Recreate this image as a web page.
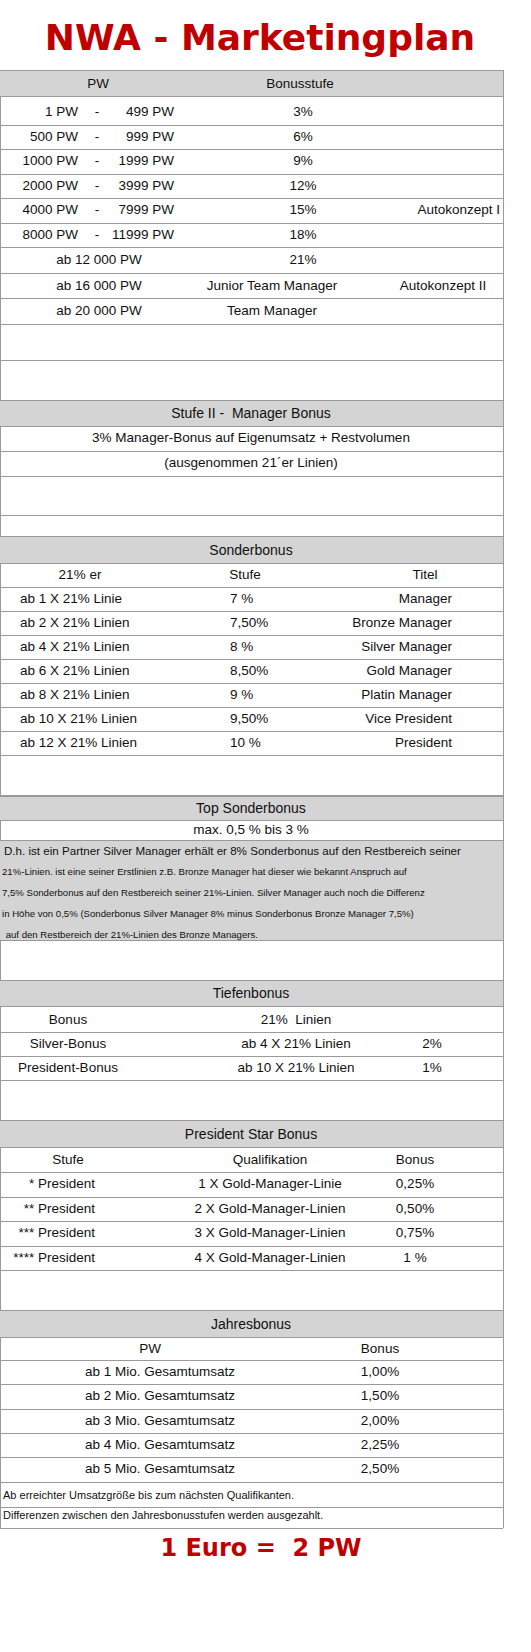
<!DOCTYPE html>
<html><head><meta charset="utf-8">
<script src="https://cdn.jsdelivr.net/npm/chart.js@4"></script>
<style>
body{margin:0;background:#fff;font-family:"Liberation Sans",Arial,sans-serif;font-size:13.5px;color:#111;}
#wrap{position:relative;width:531px;height:1652px;}
.t{position:absolute;white-space:pre;line-height:1;}
.ln{position:absolute;left:0;width:503px;height:1px;background:#9a9a9a;}
.bg{position:absolute;left:0;width:503px;background:#d4d4d4;}
.v{position:absolute;top:70px;width:1px;height:1458px;background:#9a9a9a;}
</style></head><body><div id="wrap"></div>
<script>
const title="NWA - Marketingplan";
const pwFrom=["1 PW","500 PW","1000 PW","2000 PW","4000 PW","8000 PW"];
const pwTo=["499 PW","999 PW","1999 PW","3999 PW","7999 PW","11999 PW"];
const bonusStufe=["3%","6%","9%","12%","15%","18%"];
const extraRows=[["ab 12 000 PW","21%",""],["ab 16 000 PW","Junior Team Manager","Autokonzept II"],["ab 20 000 PW","Team Manager",""]];
const sbLinien=["ab 1 X 21% Linie","ab 2 X 21% Linien","ab 4 X 21% Linien","ab 6 X 21% Linien","ab 8 X 21% Linien","ab 10 X 21% Linien","ab 12 X 21% Linien"];
const sbStufe=["7 %","7,50%","8 %","8,50%","9 %","9,50%","10 %"];
const sbTitel=["Manager","Bronze Manager","Silver Manager","Gold Manager","Platin Manager","Vice President","President"];
const topText=["D.h. ist ein Partner Silver Manager erhält er 8% Sonderbonus auf den Restbereich seiner","21%-Linien. ist eine seiner Erstlinien z.B. Bronze Manager hat dieser wie bekannt Anspruch auf","7,5% Sonderbonus auf den Restbereich seiner 21%-Linien. Silver Manager auch noch die Differenz","in Höhe von 0,5% (Sonderbonus Silver Manager 8% minus Sonderbonus Bronze Manager 7,5%)"," auf den Restbereich der 21%-Linien des Bronze Managers."];
const tbName=["Silver-Bonus","President-Bonus"],tbQual=["ab 4 X 21% Linien","ab 10 X 21% Linien"],tbVal=["2%","1%"];
const psStufe=["* President","** President","*** President","**** President"];
const psQual=["1 X Gold-Manager-Linie","2 X Gold-Manager-Linien","3 X Gold-Manager-Linien","4 X Gold-Manager-Linien"];
const psBonus=["0,25%","0,50%","0,75%","1 %"];
const jbName=["ab 1 Mio. Gesamtumsatz","ab 2 Mio. Gesamtumsatz","ab 3 Mio. Gesamtumsatz","ab 4 Mio. Gesamtumsatz","ab 5 Mio. Gesamtumsatz"];
const jbBonus=["1,00%","1,50%","2,00%","2,25%","2,50%"];

const W=document.getElementById('wrap');
function el(cls,css,txt){const d=document.createElement('div');d.className=cls;d.style.cssText=css;if(txt!==undefined)d.textContent=txt;W.appendChild(d);return d;}
function txt(s,x,y,al,extra){const d=el('t','top:'+(y-7)+'px;'+(extra||''),s);
 if(al==='c'){d.style.left=x+'px';d.style.transform='translateX(-50%)';}
 else if(al==='r'){d.style.right=(531-x)+'px';} else d.style.left=x+'px';}
function line(y){el('ln','top:'+y+'px');}
function header(y0,y1,s){el('bg','top:'+y0+'px;height:'+(y1-y0)+'px');line(y0);line(y1);txt(s,251,(y0+y1)/2,'c','font-size:14px');}
el('v','left:0');el('v','left:503px');
txt(title,260,42,'c','font-size:36px;font-weight:bold;color:#c00000;top:20px;font-family:DejaVu Sans,sans-serif');

header(70,96,"");txt("PW",98,84,'c');txt("Bonusstufe",300,84,'c');
let y=100;
pwFrom.forEach((f,i)=>{const c=y+12;txt(f,78,c,'r');txt("-",97,c,'c');txt(pwTo[i],174,c,'r');txt(bonusStufe[i],303,c,'c');if(i===4)txt("Autokonzept I",500,c,'r');y+=24.5;line(y);});
extraRows.forEach(r=>{const c=y+13;txt(r[0],99,c,'c');txt(r[1],r[1].length>5?272:303,c,'c');if(r[2])txt(r[2],443,c,'c');y+=25.5;line(y);});
line(360);
header(400,426,"Stufe II -  Manager Bonus");
txt("3% Manager-Bonus auf Eigenumsatz + Restvolumen",251,438,'c');line(451);
txt("(ausgenommen 21´er Linien)",251,463,'c');line(476);line(515);
header(536,563,"Sonderbonus");
txt("21% er",80,575,'c');txt("Stufe",245,575,'c');txt("Titel",425,575,'c');line(587);
y=587;sbLinien.forEach((s,i)=>{const c=y+12;txt(s,20,c);txt(sbStufe[i],230,c);txt(sbTitel[i],452,c,'r');y+=24;line(y);});
line(795);
header(796,820,"Top Sonderbonus");
txt("max. 0,5 % bis 3 %",251,830,'c');
el('bg','top:840px;height:100px');line(840);line(940);
txt(topText[0],4,852,'l','font-size:11.6px');
[0,1,2,3].forEach(i=>txt(topText[i+1],i>2?3:2,874+i*21,'l','font-size:9.6px'));
line(980);header(980,1006,"Tiefenbonus");
txt("Bonus",68,1020,'c');txt("21%  Linien",296,1020,'c');line(1032);
y=1032;tbName.forEach((s,i)=>{const c=y+12;txt(s,68,c,'c');txt(tbQual[i],296,c,'c');txt(tbVal[i],432,c,'c');y+=24;line(y);});
line(1120);header(1120,1147,"President Star Bonus");
txt("Stufe",68,1160,'c');txt("Qualifikation",270,1160,'c');txt("Bonus",415,1160,'c');line(1172);
y=1172;psStufe.forEach((s,i)=>{const c=y+12;txt(s,95,c,'r');txt(psQual[i],270,c,'c');txt(psBonus[i],415,c,'c');y+=24.5;line(y);});
line(1310);header(1310,1337,"Jahresbonus");
txt("PW",150,1349,'c');txt("Bonus",380,1349,'c');line(1360);
y=1360;jbName.forEach((s,i)=>{const c=y+12;txt(s,160,c,'c');txt(jbBonus[i],380,c,'c');y+=24.3;line(y);});
txt("Ab erreichter Umsatzgröße bis zum nächsten Qualifikanten.",3,1497,'l','font-size:11px');line(1507);
txt("Differenzen zwischen den Jahresbonusstufen werden ausgezahlt.",3,1517,'l','font-size:11px');line(1528);
txt("1 Euro =  2 PW",261,1550,'c','font-size:24px;font-weight:bold;color:#c00000;top:1536px;font-family:DejaVu Sans,sans-serif');
</script></body></html>
